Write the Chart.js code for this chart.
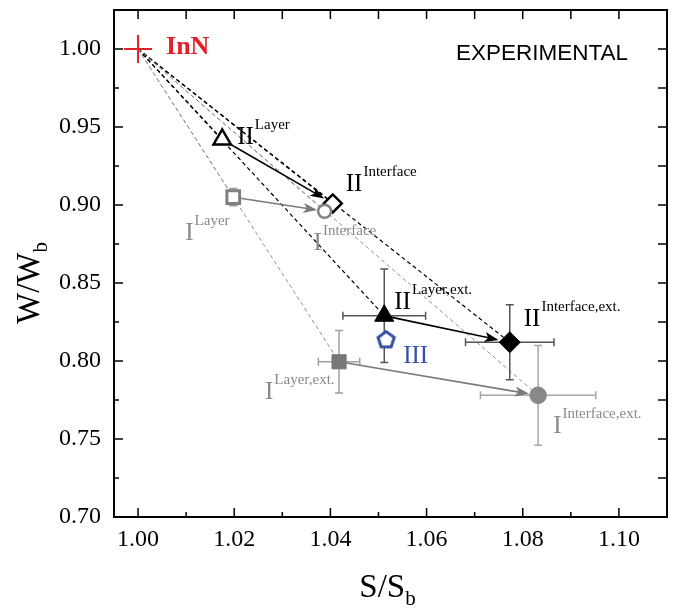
<!DOCTYPE html>
<html>
<head>
<meta charset="utf-8">
<script src="https://cdn.jsdelivr.net/npm/chart.js@4.4.1/dist/chart.umd.min.js"></script>
<style>
  html, body { margin: 0; padding: 0; background: #fff; }
  #wrap { width: 674px; height: 608px; }
</style>
</head>
<body>
<div id="wrap"><canvas id="chart"></canvas></div>
<script>
// ---- data ----
const pointNames = ['InN', 'II Layer', 'II Interface', 'I Layer', 'I Interface',
                    'II Layer,ext.', 'II Interface,ext.', 'I Layer,ext.', 'I Interface,ext.', 'III'];
const sValues = [1.000, 1.0175, 1.0405, 1.0198, 1.0388, 1.0512, 1.0773, 1.0418, 1.0832, 1.0516];
const wValues = [1.000, 0.942, 0.901, 0.905, 0.896, 0.829, 0.812, 0.7995, 0.778, 0.814];
const sErrors = [0, 0, 0, 0, 0, 0.0086, 0.0092, 0.0043, 0.0120, 0];
const wErrors = [0, 0, 0, 0.0055, 0, 0.030, 0.024, 0.020, 0.032, 0];
const labelBase = ['InN', 'II', 'II', 'I', 'I', 'II', 'II', 'I', 'I', 'III'];
const labelSup = ['', 'Layer', 'Interface', 'Layer', 'Interface',
                  'Layer,ext.', 'Interface,ext.', 'Layer,ext.', 'Interface,ext.', ''];
const arrowPairs = [[1, 2], [3, 4], [5, 6], [7, 8]];
const dashedTargets = [1, 2, 3, 4, 5, 6, 7, 8];
const xTicks = [1.00, 1.02, 1.04, 1.06, 1.08, 1.10];
const xMinorTicks = [1.01, 1.03, 1.05, 1.07, 1.09];
const yTicks = [0.70, 0.75, 0.80, 0.85, 0.90, 0.95, 1.00];
const yMinorTicks = [0.725, 0.775, 0.825, 0.875, 0.925, 0.975];

// ---- styles ----
const RED = '#e3202a';
const BLUE = '#3550a6';
const GRAY = '#808080';
const SERIF = '"Liberation Serif", "Times New Roman", serif';

function makePentagon(r, lw, color) {
    const size = Math.ceil(2 * r + lw + 4);
    const c = document.createElement('canvas');
    c.width = size; c.height = size;
    const g = c.getContext('2d');
    g.beginPath();
    for (let i = 0; i < 5; i++) {
        const a = -Math.PI / 2 + i * 2 * Math.PI / 5;
        const px = size / 2 + r * Math.cos(a);
        const py = size / 2 + r * 0.1 + r * Math.sin(a);
        if (i === 0) g.moveTo(px, py); else g.lineTo(px, py);
    }
    g.closePath();
    g.fillStyle = '#fff';
    g.fill();
    g.lineWidth = lw;
    g.strokeStyle = color;
    g.stroke();
    return c;
}

const markerStyle = ['cross', 'triangle', 'rectRot', 'rect', 'circle',
                     'triangle', 'rectRot', 'rect', 'circle', makePentagon(8.5, 3, BLUE)];
const markerRadius = [14, 10, 9, 9, 6.5, 11, 10.5, 10, 8.3, 10];
const markerFill = ['#fff', '#fff', '#fff', '#fff', '#fff', '#000', '#000', '#777', '#888', '#fff'];
const markerEdge = [RED, '#000', '#000', GRAY, GRAY, '#000', '#000', '#777', '#888', BLUE];
const markerEdgeWidth = [2, 2.5, 2.5, 3, 2.5, 1, 1, 1, 1, 0];
const errColor = ['#000', '#000', '#000', '#999', '#999', '#555', '#555', '#a0a0a0', '#a8a8a8', '#000'];
const labelColor = [RED, '#000', '#000', '#8a8a8a', '#8a8a8a', '#000', '#000', '#8a8a8a', '#8a8a8a', BLUE];
// label anchor offsets (px) relative to the marker
const labelDx = [28, 15, 13, -48, -11, 10, 14, -74, 15, 17];
const labelDy = [4.5, 5, -12, 43, 39, -7, -16, 37, 38, 24];

const points = sValues.map((s, i) => ({ x: s, y: wValues[i] }));

const overlay = {
    id: 'overlay',
    beforeDatasetsDraw(chart) {
        const { ctx, chartArea: a, scales: { x, y } } = chart;
        const px = i => x.getPixelForValue(sValues[i]);
        const py = i => y.getPixelForValue(wValues[i]);
        ctx.save();
        ctx.beginPath();
        ctx.rect(a.left, a.top, a.right - a.left, a.bottom - a.top);
        ctx.clip();

        // dashed guide lines from InN
        dashedTargets.forEach(t => {
            const gray = labelBase[t] === 'I';
            ctx.beginPath();
            ctx.setLineDash([4, 3]);
            ctx.strokeStyle = gray ? '#909090' : '#000';
            ctx.lineWidth = gray ? 1 : 1.2;
            ctx.moveTo(px(0), py(0));
            ctx.lineTo(px(t), py(t));
            ctx.stroke();
        });
        ctx.setLineDash([]);

        // error bars
        sValues.forEach((s, i) => {
            const cx = px(i), cy = py(i);
            ctx.strokeStyle = errColor[i];
            ctx.lineWidth = 1.5;
            if (sErrors[i] > 0) {
                const x0 = x.getPixelForValue(s - sErrors[i]);
                const x1 = x.getPixelForValue(s + sErrors[i]);
                ctx.beginPath();
                ctx.moveTo(x0, cy); ctx.lineTo(x1, cy);
                ctx.moveTo(x0, cy - 4); ctx.lineTo(x0, cy + 4);
                ctx.moveTo(x1, cy - 4); ctx.lineTo(x1, cy + 4);
                ctx.stroke();
            }
            if (wErrors[i] > 0) {
                const y0 = y.getPixelForValue(wValues[i] - wErrors[i]);
                const y1 = y.getPixelForValue(wValues[i] + wErrors[i]);
                ctx.beginPath();
                ctx.moveTo(cx, y0); ctx.lineTo(cx, y1);
                ctx.moveTo(cx - 4, y0); ctx.lineTo(cx + 4, y0);
                ctx.moveTo(cx - 4, y1); ctx.lineTo(cx + 4, y1);
                ctx.stroke();
            }
        });

        // arrows
        arrowPairs.forEach(([from, to]) => {
            const gray = labelBase[from] === 'I';
            const x0 = px(from), y0 = py(from), x1 = px(to), y1 = py(to);
            const ang = Math.atan2(y1 - y0, x1 - x0);
            const sx = x0 + Math.cos(ang) * (markerRadius[from] * 0.6);
            const sy = y0 + Math.sin(ang) * (markerRadius[from] * 0.6);
            const ex = x1 - Math.cos(ang) * (markerRadius[to] + 1);
            const ey = y1 - Math.sin(ang) * (markerRadius[to] + 1);
            const col = gray ? '#7a7a7a' : '#000';
            ctx.strokeStyle = col;
            ctx.fillStyle = col;
            ctx.lineWidth = 1.6;
            ctx.beginPath();
            ctx.moveTo(sx, sy);
            ctx.lineTo(ex - Math.cos(ang) * 10, ey - Math.sin(ang) * 10);
            ctx.stroke();
            const hl = 14, hw = 5;
            ctx.beginPath();
            ctx.moveTo(ex, ey);
            ctx.lineTo(ex - Math.cos(ang) * hl - Math.sin(ang) * hw, ey - Math.sin(ang) * hl + Math.cos(ang) * hw);
            ctx.lineTo(ex - Math.cos(ang) * hl * 0.75, ey - Math.sin(ang) * hl * 0.75);
            ctx.lineTo(ex - Math.cos(ang) * hl + Math.sin(ang) * hw, ey - Math.sin(ang) * hl - Math.cos(ang) * hw);
            ctx.closePath();
            ctx.fill();
        });
        ctx.restore();
    },
    afterDatasetsDraw(chart) {
        const { ctx, chartArea: a, scales: { x, y } } = chart;
        ctx.save();

        // point labels with superscripts
        labelBase.forEach((base, i) => {
            const lx = x.getPixelForValue(sValues[i]) + labelDx[i];
            const ly = y.getPixelForValue(wValues[i]) + labelDy[i];
            ctx.fillStyle = labelColor[i];
            ctx.textAlign = 'left';
            ctx.textBaseline = 'alphabetic';
            ctx.font = i === 0 ? `bold 26px ${SERIF}` : `25px ${SERIF}`;
            ctx.fillText(base, lx, ly);
            if (labelSup[i]) {
                const w = ctx.measureText(base).width;
                ctx.font = `15px ${SERIF}`;
                ctx.fillText(labelSup[i], lx + w + 1, ly - 15);
            }
        });

        ctx.fillStyle = '#000';
        ctx.font = '22.5px "Liberation Sans", Arial, sans-serif';
        ctx.textAlign = 'right';
        ctx.fillText('EXPERIMENTAL', 628, 60);

        // frame and inward ticks
        ctx.strokeStyle = '#000';
        ctx.lineWidth = 2;
        ctx.strokeRect(a.left, a.top, a.right - a.left, a.bottom - a.top);
        ctx.lineWidth = 1.5;
        ctx.beginPath();
        xTicks.forEach(v => {
            const p = x.getPixelForValue(v);
            ctx.moveTo(p, a.bottom); ctx.lineTo(p, a.bottom - 9);
            ctx.moveTo(p, a.top); ctx.lineTo(p, a.top + 9);
        });
        xMinorTicks.forEach(v => {
            const p = x.getPixelForValue(v);
            ctx.moveTo(p, a.bottom); ctx.lineTo(p, a.bottom - 5);
            ctx.moveTo(p, a.top); ctx.lineTo(p, a.top + 9);
        });
        yTicks.forEach(v => {
            const p = y.getPixelForValue(v);
            ctx.moveTo(a.left, p); ctx.lineTo(a.left + 9, p);
            ctx.moveTo(a.right, p); ctx.lineTo(a.right - 9, p);
        });
        yMinorTicks.forEach(v => {
            const p = y.getPixelForValue(v);
            ctx.moveTo(a.left, p); ctx.lineTo(a.left + 5, p);
            ctx.moveTo(a.right, p); ctx.lineTo(a.right - 9, p);
        });
        ctx.stroke();

        // axis titles with subscripts
        ctx.textAlign = 'left';
        ctx.textBaseline = 'alphabetic';
        ctx.font = `33px ${SERIF}`;
        const xMain = ctx.measureText('S/S').width;
        ctx.font = `21px ${SERIF}`;
        const xSub = ctx.measureText('b').width;
        const xStart = (a.left + a.right) / 2 - (xMain + xSub) / 2 - 3;
        ctx.font = `33px ${SERIF}`;
        ctx.fillText('S/S', xStart, 597);
        ctx.font = `21px ${SERIF}`;
        ctx.fillText('b', xStart + xMain, 605);

        ctx.save();
        ctx.translate(39, 283);
        ctx.rotate(-Math.PI / 2);
        ctx.font = `33px ${SERIF}`;
        const yMain = ctx.measureText('W/W').width;
        ctx.font = `21px ${SERIF}`;
        const ySub = ctx.measureText('b').width;
        const yStart = -(yMain + ySub) / 2;
        ctx.font = `33px ${SERIF}`;
        ctx.fillText('W/W', yStart, 0);
        ctx.font = `21px ${SERIF}`;
        ctx.fillText('b', yStart + yMain, 8);
        ctx.restore();

        ctx.restore();
    }
};

new Chart(document.getElementById('chart'), {
    type: 'scatter',
    data: {
        datasets: [{
            label: 'points',
            data: points,
            pointStyle: markerStyle,
            pointRadius: markerRadius,
            pointBackgroundColor: markerFill,
            pointBorderColor: markerEdge,
            pointBorderWidth: markerEdgeWidth
        }]
    },
    options: {
        responsive: true,
        maintainAspectRatio: false,
        animation: false,
        events: [],
        layout: { autoPadding: false, padding: { top: 10, right: 7, left: 0, bottom: 0 } },
        plugins: { legend: { display: false }, tooltip: { enabled: false } },
        scales: {
            x: {
                type: 'linear',
                min: 0.995,
                max: 1.11,
                grid: { display: false, drawTicks: false },
                border: { display: false },
                afterBuildTicks: s => { s.ticks = xTicks.map(v => ({ value: v })); },
                afterFit: s => { s.height = 91; s.paddingLeft = 0; s.paddingRight = 0; },
                ticks: {
                    color: '#000',
                    padding: 8,
                    maxRotation: 0,
                    font: { family: SERIF, size: 24 },
                    callback: v => Number(v).toFixed(2)
                }
            },
            y: {
                type: 'linear',
                min: 0.70,
                max: 1.025,
                grid: { display: false, drawTicks: false },
                border: { display: false },
                afterBuildTicks: s => { s.ticks = yTicks.map(v => ({ value: v })); },
                afterFit: s => { s.width = 114; s.paddingTop = 0; s.paddingBottom = 0; },
                ticks: {
                    color: '#000',
                    padding: 13,
                    font: { family: SERIF, size: 24 },
                    callback: v => Number(v).toFixed(2)
                }
            }
        }
    },
    plugins: [overlay]
});
</script>
</body>
</html>
